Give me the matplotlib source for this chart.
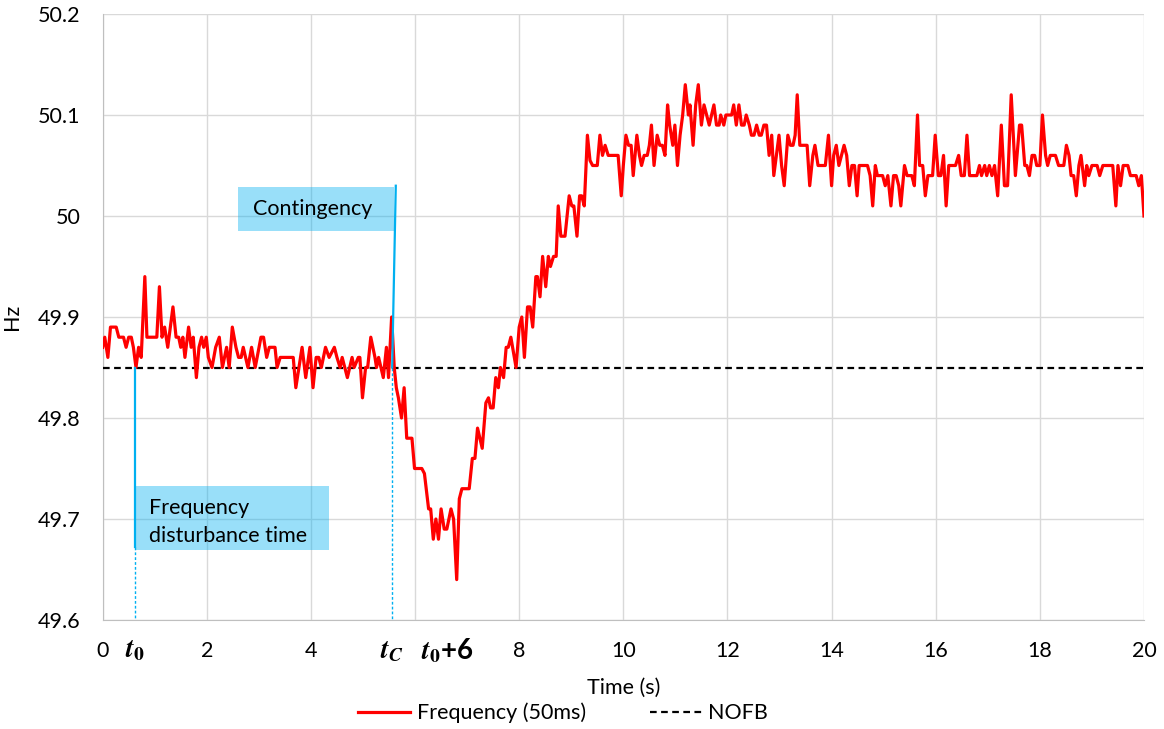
import numpy as np
import matplotlib.pyplot as plt
from matplotlib.lines import Line2D
from matplotlib.patches import Rectangle

plt.rcParams['font.family'] = ['Lato', 'DejaVu Sans']
plt.rcParams['mathtext.fontset'] = 'stix'

# frequency trace (time s, Hz)
pts_before = [(0.00, 49.87), (0.04, 49.88), (0.10, 49.86), (0.15, 49.89), (0.26, 49.89), (0.31, 49.88),
              (0.40, 49.88), (0.45, 49.87), (0.50, 49.88), (0.55, 49.88), (0.59, 49.87), (0.64, 49.85),
              (0.69, 49.87), (0.74, 49.86), (0.81, 49.94), (0.85, 49.88), (1.04, 49.88), (1.09, 49.93),
              (1.14, 49.88), (1.19, 49.89), (1.25, 49.87), (1.35, 49.91), (1.41, 49.88), (1.46, 49.88),
              (1.50, 49.87), (1.54, 49.88), (1.58, 49.86), (1.65, 49.89), (1.70, 49.87), (1.74, 49.88),
              (1.80, 49.84), (1.85, 49.87), (1.90, 49.88), (1.94, 49.87), (1.99, 49.88), (2.03, 49.86),
              (2.10, 49.85), (2.17, 49.87), (2.24, 49.88), (2.30, 49.85), (2.38, 49.87), (2.43, 49.85),
              (2.49, 49.89), (2.56, 49.87), (2.61, 49.86), (2.66, 49.86), (2.70, 49.87), (2.79, 49.85),
              (2.86, 49.87), (2.93, 49.85), (3.04, 49.88), (3.09, 49.88), (3.15, 49.86), (3.20, 49.87),
              (3.31, 49.87), (3.35, 49.85), (3.41, 49.86), (3.66, 49.86), (3.71, 49.83), (3.83, 49.87),
              (3.90, 49.84), (3.98, 49.87), (4.04, 49.83), (4.10, 49.86), (4.15, 49.86), (4.20, 49.85),
              (4.28, 49.87), (4.35, 49.86), (4.45, 49.87), (4.50, 49.86), (4.56, 49.85), (4.60, 49.86),
              (4.70, 49.84), (4.79, 49.86), (4.83, 49.85), (4.91, 49.86), (4.94, 49.86), (4.99, 49.82),
              (5.05, 49.85), (5.09, 49.85), (5.15, 49.88), (5.23, 49.86), (5.26, 49.85), (5.30, 49.86),
              (5.39, 49.84), (5.45, 49.87), (5.49, 49.84)]

pts_dip = [(5.55, 49.90), (5.60, 49.85), (5.64, 49.83), (5.68, 49.82), (5.74, 49.80), (5.79, 49.83),
           (5.84, 49.78), (5.94, 49.78), (5.99, 49.75), (6.13, 49.75), (6.18, 49.745), (6.26, 49.71),
           (6.30, 49.71), (6.35, 49.68), (6.40, 49.70), (6.45, 49.68), (6.50, 49.71), (6.56, 49.69),
           (6.61, 49.69), (6.69, 49.71), (6.74, 49.70), (6.80, 49.64), (6.85, 49.72), (6.90, 49.73),
           (7.04, 49.73), (7.10, 49.76), (7.15, 49.76), (7.20, 49.79), (7.29, 49.77), (7.36, 49.815),
           (7.41, 49.82), (7.45, 49.81), (7.50, 49.81), (7.55, 49.84), (7.60, 49.83), (7.64, 49.85),
           (7.70, 49.84), (7.75, 49.87), (7.79, 49.87), (7.84, 49.88), (7.94, 49.85), (8.00, 49.89),
           (8.05, 49.90), (8.10, 49.86), (8.16, 49.91), (8.21, 49.91), (8.26, 49.89), (8.32, 49.94),
           (8.35, 49.94), (8.40, 49.92), (8.45, 49.96), (8.51, 49.93), (8.56, 49.96), (8.60, 49.95),
           (8.66, 49.96), (8.71, 49.96), (8.75, 50.01), (8.80, 49.98)]

pts_peak = [(8.88, 49.98), (8.96, 50.02), (9.01, 50.01), (9.05, 50.01), (9.11, 49.98), (9.16, 50.02),
            (9.20, 50.02), (9.25, 50.01), (9.31, 50.08), (9.36, 50.055), (9.41, 50.05), (9.50, 50.05),
            (9.55, 50.08), (9.60, 50.06), (9.65, 50.07), (9.71, 50.06), (9.90, 50.06), (9.96, 50.02),
            (10.00, 50.05), (10.05, 50.08), (10.10, 50.07), (10.15, 50.07), (10.19, 50.04), (10.26, 50.08),
            (10.31, 50.06), (10.35, 50.05), (10.40, 50.06), (10.46, 50.06), (10.50, 50.07), (10.54, 50.09),
            (10.59, 50.05), (10.65, 50.08), (10.70, 50.07), (10.75, 50.07), (10.80, 50.06), (10.85, 50.11),
            (10.89, 50.09), (10.95, 50.07), (10.99, 50.09), (11.04, 50.05), (11.09, 50.08), (11.14, 50.10),
            (11.19, 50.13), (11.25, 50.10), (11.28, 50.11), (11.34, 50.07), (11.39, 50.11), (11.44, 50.13),
            (11.50, 50.09), (11.55, 50.11), (11.60, 50.10), (11.65, 50.09), (11.74, 50.11), (11.79, 50.09),
            (11.84, 50.09), (11.87, 50.10), (11.93, 50.09), (11.97, 50.10), (12.08, 50.10), (12.12, 50.11),
            (12.17, 50.09), (12.22, 50.11), (12.27, 50.09), (12.32, 50.09), (12.36, 50.10), (12.42, 50.09),
            (12.46, 50.08), (12.51, 50.08), (12.56, 50.09), (12.61, 50.08), (12.65, 50.08), (12.70, 50.09),
            (12.75, 50.09), (12.80, 50.06), (12.85, 50.08), (12.89, 50.04), (12.94, 50.06), (12.99, 50.08),
            (13.04, 50.05), (13.09, 50.03), (13.16, 50.08), (13.21, 50.07), (13.26, 50.07), (13.30, 50.08),
            (13.34, 50.12), (13.39, 50.07), (13.48, 50.07), (13.53, 50.07), (13.58, 50.03), (13.64, 50.06),
            (13.68, 50.07), (13.74, 50.05), (13.88, 50.05), (13.94, 50.08), (14.00, 50.03), (14.04, 50.06),
            (14.09, 50.07), (14.14, 50.05)]

pts_after = [(14.24, 50.07), (14.29, 50.06), (14.34, 50.03), (14.39, 50.05), (14.44, 50.05), (14.49, 50.02),
             (14.53, 50.05), (14.69, 50.05), (14.74, 50.04), (14.79, 50.01), (14.84, 50.05), (14.88, 50.04),
             (14.98, 50.04), (15.03, 50.03), (15.08, 50.04), (15.14, 50.01), (15.19, 50.04), (15.24, 50.04),
             (15.29, 50.03), (15.33, 50.01), (15.40, 50.05), (15.45, 50.04), (15.54, 50.04), (15.59, 50.03),
             (15.65, 50.10), (15.69, 50.05), (15.75, 50.05), (15.80, 50.02), (15.85, 50.04), (15.94, 50.04),
             (15.99, 50.08), (16.05, 50.04), (16.10, 50.04), (16.15, 50.06), (16.20, 50.01), (16.25, 50.05),
             (16.38, 50.05), (16.44, 50.06), (16.49, 50.04), (16.55, 50.04), (16.60, 50.08), (16.65, 50.04),
             (16.79, 50.04), (16.84, 50.05), (16.88, 50.04), (16.94, 50.05), (16.98, 50.04), (17.03, 50.05),
             (17.08, 50.04), (17.13, 50.05), (17.19, 50.02), (17.26, 50.09), (17.32, 50.03), (17.38, 50.03),
             (17.45, 50.12), (17.53, 50.04), (17.61, 50.09), (17.65, 50.09), (17.71, 50.05), (17.75, 50.05),
             (17.80, 50.04), (17.85, 50.06), (17.90, 50.06), (17.94, 50.05), (18.00, 50.05), (18.05, 50.10),
             (18.11, 50.06), (18.15, 50.05), (18.20, 50.06), (18.30, 50.06), (18.36, 50.05), (18.46, 50.05),
             (18.51, 50.07), (18.56, 50.06), (18.60, 50.04), (18.65, 50.04), (18.70, 50.02), (18.75, 50.05),
             (18.79, 50.06), (18.86, 50.03), (18.90, 50.05), (18.94, 50.04), (19.00, 50.05), (19.10, 50.05),
             (19.15, 50.04), (19.21, 50.05), (19.40, 50.05), (19.46, 50.01), (19.50, 50.05), (19.55, 50.03),
             (19.60, 50.05), (19.69, 50.05), (19.74, 50.04), (19.85, 50.04), (19.90, 50.03), (19.95, 50.04),
             (20.00, 50.00)]

nofb = 49.85
t0 = 0.62
t_c = 5.56

yticks = [49.6, 49.7, 49.8, 49.9, 50.0, 50.1, 50.2]
ylabels = ['49.6', '49.7', '49.8', '49.9', '50', '50.1', '50.2']
xticks = [0, 2, 4, 6, 8, 10, 12, 14, 16, 18, 20]
xlabels = ['0', '2', '4', '', '8', '10', '12', '14', '16', '18', '20']
mark_ticks = [t0, t_c, t0 + 6]
mark_labels = [r'$\mathbfit{t}_{\mathbf{0}}$', r'$\mathbfit{t}_{\mathbfit{C}}$', r'$\mathbfit{t}_{\mathbf{0}}$+6']

pts = pts_before + pts_dip + pts_peak + pts_after
t = np.array([p[0] for p in pts])
f = np.array([p[1] for p in pts])

fs = 15.5

fig = plt.figure(figsize=(11.64, 7.29), dpi=100)
ax = fig.add_axes([0.0882, 0.1495, 0.8946, 0.8313])

ax.plot(t, f, color='#FF0000', lw=2.3, zorder=4)
ax.axhline(nofb, color='black', lw=1.6, ls=(0, (3, 2)), zorder=3)

blue = '#00B0F0'
# frequency disturbance marker
ax.plot([t0, t0], [nofb, 49.672], color=blue, lw=1.6, zorder=5)
ax.plot([t0, t0], [49.672, 49.6], color=blue, lw=1, ls=(0, (2, 1.5)), zorder=5)
ax.add_patch(Rectangle((0.62, 49.669), 3.73, 0.064, facecolor=blue, alpha=0.4, lw=0, zorder=2))
ax.text(0.89, 49.697, 'Frequency\ndisturbance time', fontsize=fs, va='center', ha='left',
        linespacing=1.5, zorder=6)

# contingency marker
ax.plot([t_c + 0.07, t_c], [50.03, nofb], color=blue, lw=1.6, zorder=5)
ax.plot([t_c, t_c], [nofb, 49.6], color=blue, lw=1, ls=(0, (2, 1.5)), zorder=5)
ax.add_patch(Rectangle((2.59, 49.985), 3.01, 0.044, facecolor=blue, alpha=0.4, lw=0, zorder=2))
ax.text(4.03, 50.007, 'Contingency', fontsize=fs, va='center', ha='center', zorder=6)

ax.set_xlim(0, 20)
ax.set_ylim(49.6, 50.2)
ax.set_xticks(xticks)
ax.set_xticklabels(xlabels)
ax.set_xticks(mark_ticks, minor=True)
ax.set_xticklabels(mark_labels, minor=True, fontweight='bold', fontsize=20)
ax.set_yticks(yticks)
ax.set_yticklabels(ylabels)
ax.tick_params(axis='both', which='major', length=0, labelsize=fs)
ax.tick_params(axis='x', which='minor', length=0)
ax.tick_params(axis='x', which='major', pad=15)
ax.tick_params(axis='x', which='minor', pad=12)
ax.tick_params(axis='y', pad=16)
ax.grid(True, which='major', color='#D9D9D9', lw=1)
ax.set_axisbelow(True)
for s in ['top', 'right']:
    ax.spines[s].set_visible(False)
for s in ['left', 'bottom']:
    ax.spines[s].set_color('#BFBFBF')

ax.set_xlabel('Time (s)', fontsize=fs)
ax.xaxis.set_label_coords(0.5, -0.096)
ax.set_ylabel('Hz', fontsize=fs)
ax.yaxis.set_label_coords(-0.0775, 0.5)

handles = [Line2D([], [], color='#FF0000', lw=2.3),
           Line2D([], [], color='black', lw=1.6, ls=(0, (3, 2)))]
fig.legend(handles, ['Frequency (50ms)', 'NOFB'], loc='center', bbox_to_anchor=(0.484, 0.022),
           ncol=2, frameon=False, fontsize=fs, handlelength=2.4, columnspacing=3.0, handletextpad=0.3)

fig.savefig('out.png', dpi=100)
